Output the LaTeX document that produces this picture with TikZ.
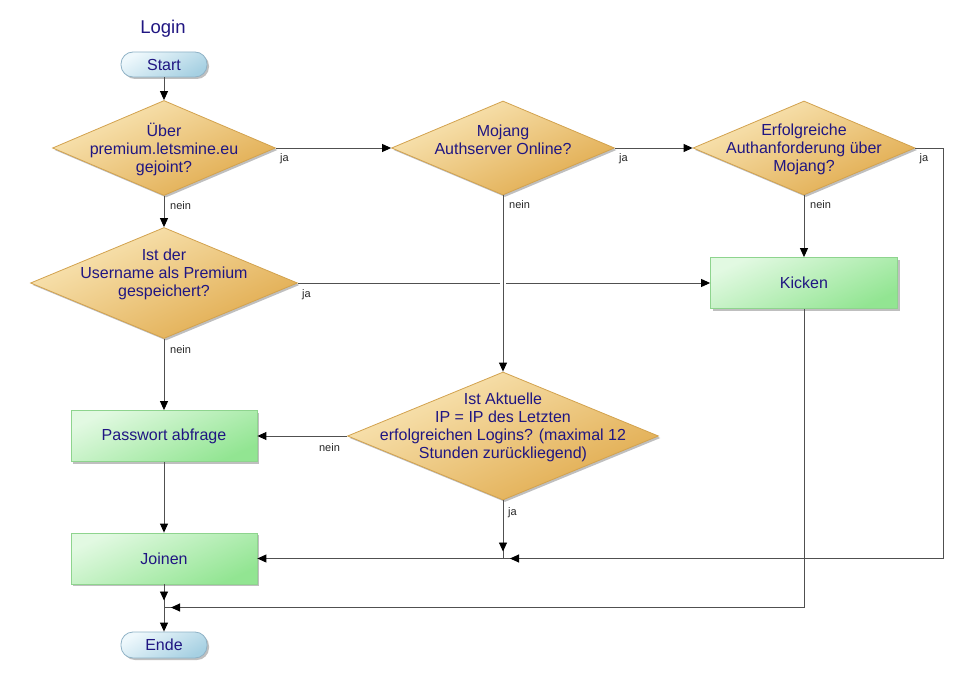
\documentclass[tikz,border=0pt]{standalone}
\usepackage{fontspec}
\setmainfont{Liberation Sans}
\usetikzlibrary{shapes.geometric,arrows.meta,shadows}
\definecolor{txt}{RGB}{32,22,130}
\definecolor{diaLight}{HTML}{FAE8BA}
\definecolor{diaMid}{HTML}{F0CD82}
\definecolor{diaDark}{HTML}{E0A94A}
\definecolor{diaBorder}{HTML}{D2A24E}
\definecolor{boxLight}{HTML}{E2F9E2}
\definecolor{boxMid}{HTML}{BDF0BD}
\definecolor{boxDark}{HTML}{92E592}
\definecolor{boxBorder}{HTML}{8ED48E}
\definecolor{pillLight}{HTML}{EEF8FC}
\definecolor{pillDark}{HTML}{A6D0E2}
\definecolor{pillBorder}{HTML}{8FB2C6}
\definecolor{lineC}{HTML}{505050}
\begin{document}
\begin{tikzpicture}[x=1pt,y=-1pt,
  font=\fontsize{16}{18}\selectfont,
  shad/.style={drop shadow={shadow xshift=2pt,shadow yshift=-2pt,fill=black,opacity=0.25}},
  dia/.style={diamond,draw=diaBorder,line width=0.8pt,top color=diaLight,middle color=diaMid,bottom color=diaDark,shading angle=25,inner sep=0pt,shad},
  dtext/.style={align=center,text=txt,inner sep=0pt},
  box/.style={rectangle,draw=boxBorder,line width=0.8pt,top color=boxLight,middle color=boxMid,bottom color=boxDark,shading angle=25,minimum width=186pt,minimum height=51pt,text=txt,shad},
  pill/.style={rectangle,rounded corners=12pt,draw=pillBorder,line width=0.8pt,top color=pillLight,bottom color=pillDark,shading angle=30,minimum width=86pt,minimum height=25pt,inner sep=0pt,text=txt,shad},
  line/.style={draw=lineC,line width=0.9pt},
  arr/.style={line,-{Triangle[length=9pt,width=8pt,color=black]}},
  lbl/.style={font=\fontsize{11}{13}\selectfont,text=black!85,inner sep=0pt}
]
\useasboundingbox (0,0) rectangle (967,682);

\node[font=\fontsize{18.5}{20}\selectfont,text=txt] (title) at (163,28.5) {Login};
\node[pill] (start) at (164,64.5) {Start};

\node[dia,minimum width=223pt,minimum height=95pt] (d1) at (164,148) {};
\node[dtext] (t1) at (164,149) {Über\\premium.letsmine.eu\\gejoint?};

\node[dia,minimum width=223pt,minimum height=94pt] (d2) at (503,148) {};
\node[dtext] (t2) at (503,140) {Mojang\\Authserver Online?};

\node[dia,minimum width=222pt,minimum height=94pt] (d3) at (804,148) {};
\node[dtext] (t3) at (804,149) {Erfolgreiche\\Authanforderung über\\Mojang?};

\node[dia,minimum width=267pt,minimum height=111pt] (d4) at (164,283) {};
\node[dtext] (t4) at (164,274) {Ist der\\Username als Premium\\gespeichert?};

\node[box,minimum width=187pt] (kick) at (804,283) {Kicken};

\node[dia,minimum width=311pt,minimum height=128pt] (d5) at (503,436) {};
\node[dtext] (t5) at (503,427) {Ist Aktuelle\\IP = IP des Letzten\\erfolgreichen Logins? (maximal 12\\Stunden zurückliegend)};

\node[box] (pw) at (164,436) {Passwort abfrage};
\node[box] (jn) at (164,558.5) {Joinen};
\node[pill,minimum height=26pt] (ende) at (164,645) {Ende};

\coordinate (hop) at (503,283);
\coordinate (j1) at (503,558.5);
\coordinate (rc) at (943,558.5);
\coordinate (j2) at (164,607.5);

\draw[arr] (start) -- (d1);
\draw[arr] (d1) -- (d2);
\draw[arr] (d2) -- (d3);
\draw[arr] (d1) -- (d4);
\draw[arr] (d2) -- (d5);
\draw[arr] (d3) -- (kick);
\draw[line] (d4.east) -- ([xshift=-3pt]hop);
\draw[arr] ([xshift=3pt]hop) -- (kick.west);
\draw[arr] (d4) -- (pw);
\draw[arr] (d5) -- (pw);
\draw[arr] (pw) -- (jn);
% joins into junction j1
\draw[line] (d5) -- (j1);
\draw[arr] (d5) -- ([yshift=7pt]j1);
\draw[line] (d3.east) -| (rc) -- (j1);
\draw[arr] (rc) -- ([xshift=7pt]j1);
\draw[arr] (j1) -- (jn);
% joins into junction j2
\draw[line] (jn) -- (j2);
\draw[arr] (jn) -- ([yshift=7pt]j2);
\draw[line] (kick) |- (j2);
\draw[arr] (kick |- j2) -- ([xshift=7pt]j2);
\draw[arr] (j2) -- (ende);

\node[lbl,anchor=north west] (l1) at ([shift={(4,5)}]d1.east) {ja};
\node[lbl,anchor=north west] (l2) at ([shift={(4,5)}]d2.east) {ja};
\node[lbl,anchor=north west] (l3) at ([shift={(4,5)}]d3.east) {ja};
\node[lbl,anchor=north west] (l4) at ([shift={(6,5)}]d1.south) {nein};
\node[lbl,anchor=north west] (l5) at ([shift={(6,5)}]d2.south) {nein};
\node[lbl,anchor=north west] (l6) at ([shift={(6,5)}]d3.south) {nein};
\node[lbl,anchor=north west] (l7) at ([shift={(4,6)}]d4.east) {ja};
\node[lbl,anchor=north west] (l8) at ([shift={(6,6)}]d4.south) {nein};
\node[lbl,anchor=north east] (l9) at ([shift={(-7,7)}]d5.west) {nein};
\node[lbl,anchor=north west] (l10) at ([shift={(5,7)}]d5.south) {ja};
\end{tikzpicture}
\end{document}
